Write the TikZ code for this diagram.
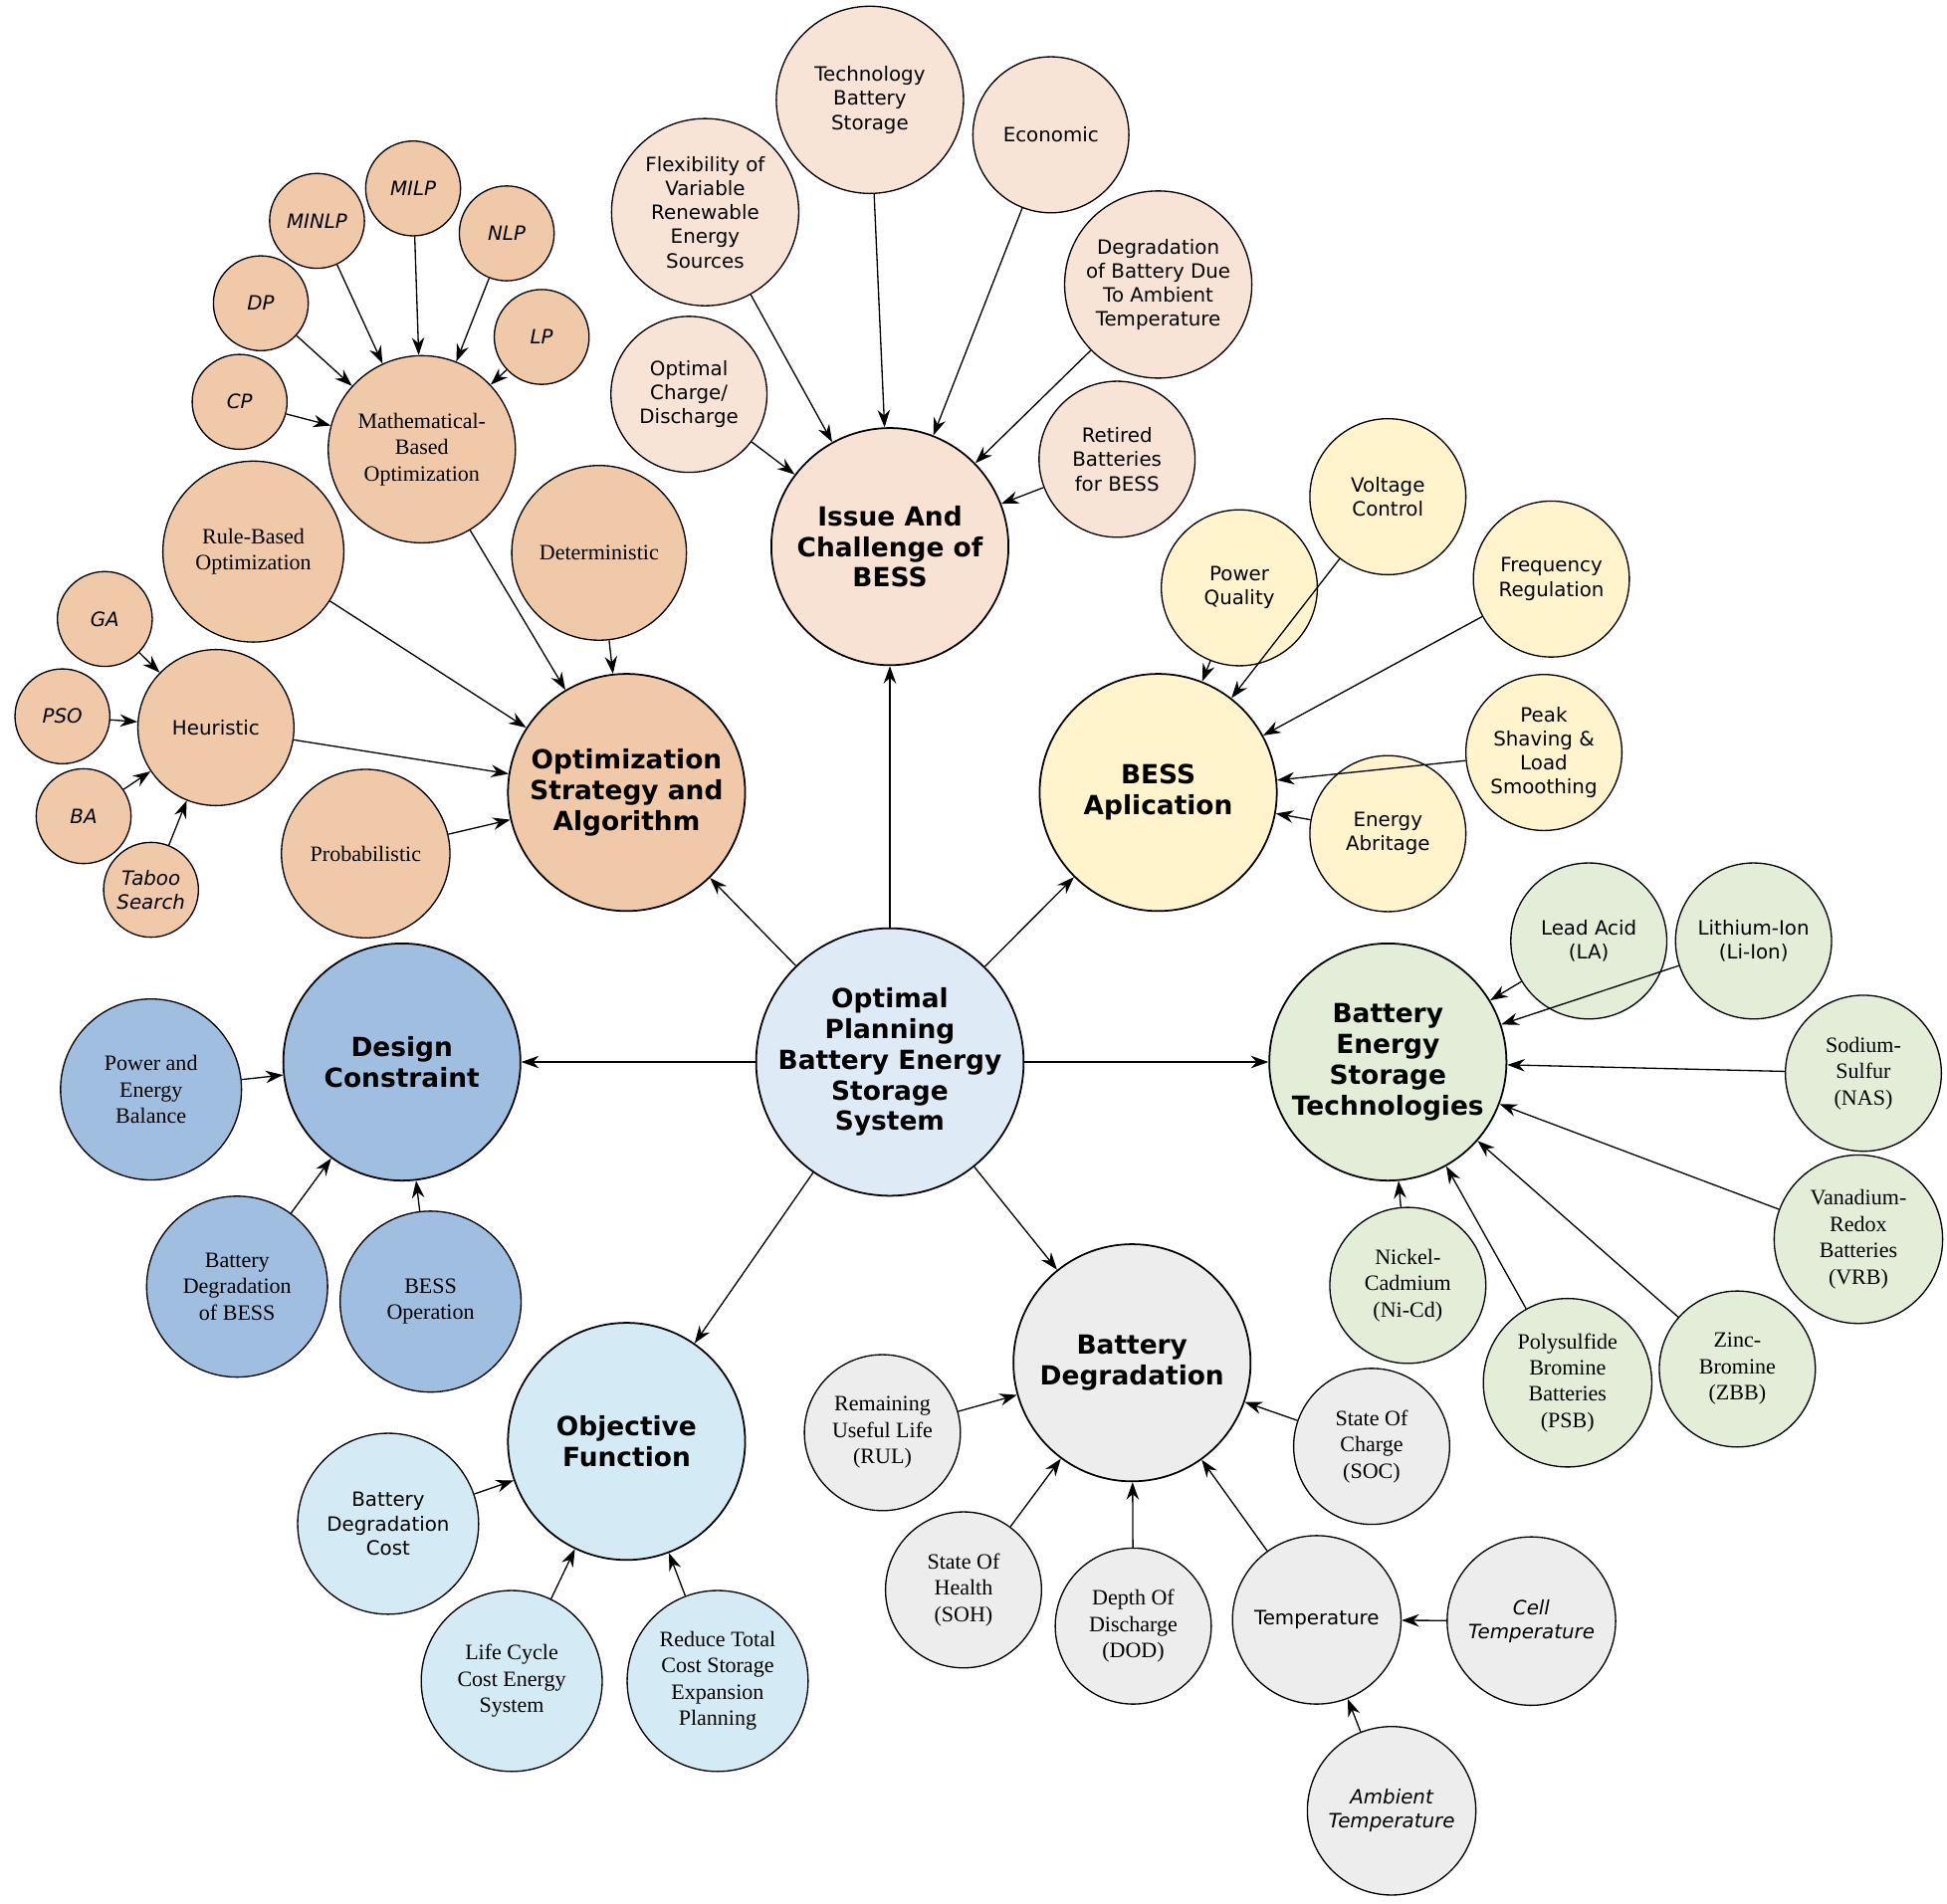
\documentclass[tikz,border=0pt]{standalone}
\usepackage{fontspec}
\setmainfont{Liberation Serif}
\setsansfont{DejaVu Sans}
\usepackage{tikz}
\usetikzlibrary{arrows.meta}
\definecolor{hub}{RGB}{222,234,246}
\definecolor{issue}{RGB}{247,226,212}
\definecolor{issuekid}{RGB}{247,228,214}
\definecolor{optim}{RGB}{240,201,169}
\definecolor{appl}{RGB}{255,244,204}
\definecolor{tech}{RGB}{227,237,216}
\definecolor{design}{RGB}{160,190,224}
\definecolor{objf}{RGB}{212,234,244}
\definecolor{degr}{RGB}{237,237,237}
\tikzset{
  >={Stealth[length=2.8mm,width=2mm]},
  bubble/.style={draw,shape=circle,inner sep=0,minimum size=#1*0.02cm,align=center},
  main/.style={bubble=#1,line width=0.8pt,font=\sffamily\bfseries\large},
  ss/.style={bubble=#1,line width=0.6pt,font=\sffamily\small},
  sr/.style={bubble=#1,line width=0.6pt,font=\rmfamily\normalsize},
  si/.style={bubble=#1,line width=0.6pt,font=\sffamily\itshape\small},
  link/.style={draw,->,line width=0.6pt}
}
\begin{document}
\begin{tikzpicture}[x=0.02cm,y=-0.02cm]
  \useasboundingbox (0,0) rectangle (1560,1525);
  % main nodes
  \node (hub) [main=212,fill=hub] at (713,851) {Optimal\\Planning\\Battery Energy\\Storage\\System};
  \node (issue) [main=190,fill=issue] at (713,438) {Issue And\\Challenge of\\BESS};
  \node (opt) [main=190,fill=optim] at (502,635) {Optimization\\Strategy and\\Algorithm};
  \node (app) [main=190,fill=appl] at (928,635) {BESS\\Aplication};
  \node (tech) [main=190,fill=tech] at (1112,851) {Battery\\Energy\\Storage\\Technologies};
  \node (des) [main=190,fill=design] at (322,851) {Design\\Constraint};
  \node (obj) [main=190,fill=objf] at (502,1155) {Objective\\Function};
  \node (deg) [main=190,fill=degr] at (907,1092) {Battery\\Degradation};
  \foreach \n in {issue,opt,app,tech,des,obj,deg}
    \path [link] (hub) -- (\n);
  % issue and challenge
  \node (techbs) [ss=150,fill=issuekid] at (697,80) {Technology\\Battery\\Storage};
  \node (econ) [ss=125,fill=issuekid] at (842,108) {Economic};
  \node (flex) [ss=150,fill=issuekid] at (565,170) {Flexibility of\\Variable\\Renewable\\Energy\\Sources};
  \node (ambdeg) [ss=150,fill=issuekid] at (928,228) {Degradation\\of Battery Due\\To Ambient\\Temperature};
  \node (charge) [ss=125,fill=issuekid] at (552,316) {Optimal\\Charge/\\Discharge};
  \node (retired) [ss=125,fill=issuekid] at (895,368) {Retired\\Batteries\\for BESS};
  \foreach \n in {techbs,econ,flex,ambdeg,charge,retired}
    \path [link] (\n) -- (issue);
  % optimization
  \node (math) [sr=150,fill=optim] at (338,360) {Mathematical-\\Based\\Optimization};
  \node (determ) [sr=140,fill=optim] at (480,443) {Deterministic};
  \node (rule) [sr=145,fill=optim] at (203,442) {Rule-Based\\Optimization};
  \node (heur) [ss=125,fill=optim] at (173,583) {Heuristic};
  \node (prob) [sr=135,fill=optim] at (293,684) {Probabilistic};
  \foreach \n in {math,determ,rule,heur,prob}
    \path [link] (\n) -- (opt);
  \node (cp) [si=76,fill=optim] at (192,322) {CP};
  \node (dp) [si=76,fill=optim] at (209,243) {DP};
  \node (minlp) [si=76,fill=optim] at (254,177) {MINLP};
  \node (milp) [si=76,fill=optim] at (331,151) {MILP};
  \node (nlp) [si=76,fill=optim] at (406,187) {NLP};
  \node (lp) [si=76,fill=optim] at (434,270) {LP};
  \foreach \n in {cp,dp,minlp,milp,nlp,lp}
    \path [link] (\n) -- (math);
  \node (ga) [si=76,fill=optim] at (84,496) {GA};
  \node (pso) [si=76,fill=optim] at (50,574) {PSO};
  \node (ba) [si=76,fill=optim] at (67,654) {BA};
  \node (taboo) [si=76,fill=optim] at (121,713) {Taboo\\Search};
  \foreach \n in {ga,pso,ba,taboo}
    \path [link] (\n) -- (heur);
  % application
  \node (pq) [ss=125,fill=appl] at (993,471) {Power\\Quality};
  \node (vc) [ss=125,fill=appl] at (1112,398) {Voltage\\Control};
  \node (fr) [ss=125,fill=appl] at (1243,464) {Frequency\\Regulation};
  \node (peak) [ss=125,fill=appl] at (1237,603) {Peak\\Shaving \&\\Load\\Smoothing};
  \node (arb) [ss=125,fill=appl] at (1112,668) {Energy\\Abritage};
  \foreach \n in {pq,vc,fr,peak,arb}
    \path [link] (\n) -- (app);
  % technologies
  \node (la) [ss=125,fill=tech] at (1273,754) {Lead Acid\\(LA)};
  \node (li) [ss=125,fill=tech] at (1405,754) {Lithium-Ion\\(Li-Ion)};
  \node (nas) [sr=125,fill=tech] at (1493,860) {Sodium-\\Sulfur\\(NAS)};
  \node (vrb) [sr=135,fill=tech] at (1489,993) {Vanadium-\\Redox\\Batteries\\(VRB)};
  \node (zbb) [sr=125,fill=tech] at (1392,1097) {Zinc-\\Bromine\\(ZBB)};
  \node (psb) [sr=135,fill=tech] at (1256,1108) {Polysulfide\\Bromine\\Batteries\\(PSB)};
  \node (nicd) [sr=125,fill=tech] at (1128,1030) {Nickel-\\Cadmium\\(Ni-Cd)};
  \foreach \n in {la,li,nas,vrb,zbb,psb,nicd}
    \path [link] (\n) -- (tech);
  % design constraint
  \node (bal) [sr=145,fill=design] at (121,873) {Power and\\Energy\\Balance};
  \node (bdb) [sr=145,fill=design] at (190,1031) {Battery\\Degradation\\of BESS};
  \node (oper) [sr=145,fill=design] at (345,1043) {BESS\\Operation};
  \foreach \n in {bal,bdb,oper}
    \path [link] (\n) -- (des);
  % objective function
  \node (bdc) [ss=145,fill=objf] at (311,1221) {Battery\\Degradation\\Cost};
  \node (lcc) [sr=145,fill=objf] at (410,1347) {Life Cycle\\Cost Energy\\System};
  \node (rtc) [sr=145,fill=objf] at (575,1347) {Reduce Total\\Cost Storage\\Expansion\\Planning};
  \foreach \n in {bdc,lcc,rtc}
    \path [link] (\n) -- (obj);
  % degradation
  \node (rul) [sr=125,fill=degr] at (707,1148) {Remaining\\Useful Life\\(RUL)};
  \node (soh) [sr=125,fill=degr] at (772,1274) {State Of\\Health\\(SOH)};
  \node (dod) [sr=125,fill=degr] at (908,1303) {Depth Of\\Discharge\\(DOD)};
  \node (temp) [ss=135,fill=degr] at (1055,1298) {Temperature};
  \node (soc) [sr=125,fill=degr] at (1099,1159) {State Of\\Charge\\(SOC)};
  \foreach \n in {rul,soh,dod,temp,soc}
    \path [link] (\n) -- (deg);
  \node (cell) [si=135,fill=degr] at (1227,1299) {Cell\\Temperature};
  \node (amb) [si=135,fill=degr] at (1115,1451) {Ambient\\Temperature};
  \path [link] (cell) -- (temp);
  \path [link] (amb) -- (temp);
\end{tikzpicture}
\end{document}
